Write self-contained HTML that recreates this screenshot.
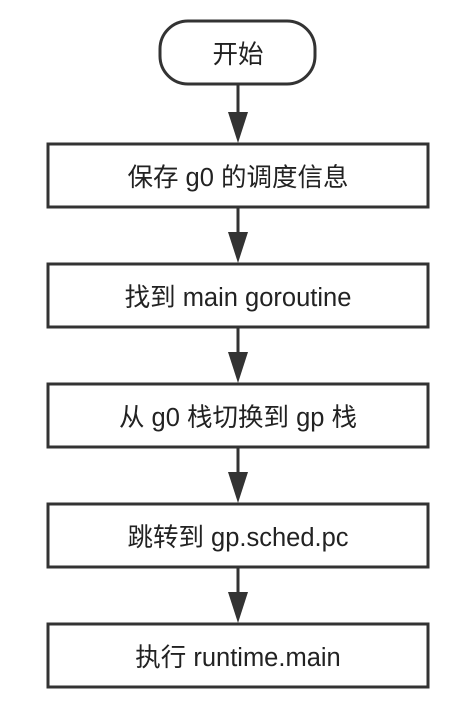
<!DOCTYPE html>
<html><head><style>
body{margin:0;background:#fff;width:475px;height:722px;overflow:hidden}
svg text{font-family:"Liberation Sans","Noto Sans CJK SC",sans-serif;font-size:25.5px;fill:#222}
</style></head><body>
<svg width="475" height="722" viewBox="0 0 475 722">
<g stroke="#333" stroke-width="3" fill="none">
<rect x="160" y="21" width="155" height="63" rx="28"/>
<rect x="48" y="144" width="380" height="63"/>
<rect x="48" y="264" width="380" height="63"/>
<rect x="48" y="384" width="380" height="63"/>
<rect x="48" y="504" width="380" height="63"/>
<rect x="48" y="624" width="380" height="63"/>
<line x1="238" y1="85" x2="238" y2="115"/>
<line x1="238" y1="208" x2="238" y2="235"/>
<line x1="238" y1="328" x2="238" y2="355"/>
<line x1="238" y1="448" x2="238" y2="475"/>
<line x1="238" y1="568" x2="238" y2="595"/>
</g>
<g fill="#333">
<polygon points="228,112 248,112 238,143"/>
<polygon points="228,232 248,232 238,263"/>
<polygon points="228,352 248,352 238,383"/>
<polygon points="228,472 248,472 238,503"/>
<polygon points="228,592 248,592 238,623"/>
</g>
<g text-anchor="middle">
<text x="238" y="63">开始</text>
<text x="238" y="186">保存 g0 的调度信息</text>
<text x="238" y="306">找到 main goroutine</text>
<text x="238" y="426">从 g0 栈切换到 gp 栈</text>
<text x="238" y="546">跳转到 gp.sched.pc</text>
<text x="238" y="666">执行 runtime.main</text>
</g>
</svg>
</body></html>
